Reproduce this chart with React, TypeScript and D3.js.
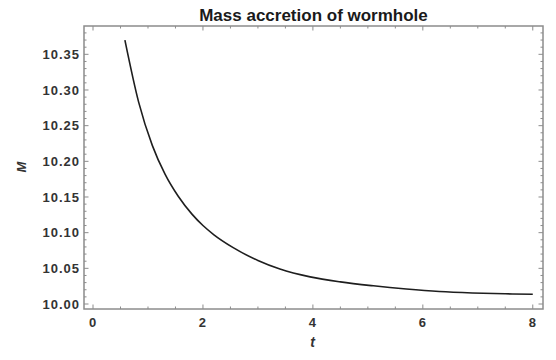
import React from "react";
import * as d3 from "d3";

// Mass M(t) sampled along the accretion curve
const timeValues = [0.58, 0.83, 1.08, 1.31, 1.55, 1.8, 2.0, 2.2, 2.55, 3.0, 3.4, 3.95, 4.5, 5.1, 5.7, 6.3, 6.9, 7.5, 8.0];
const massValues = [10.370, 10.283, 10.222, 10.182, 10.151, 10.126, 10.110, 10.097, 10.079, 10.061, 10.049, 10.038, 10.031, 10.0255, 10.021, 10.0175, 10.0155, 10.0143, 10.0136];

const xTickValues = [0, 2, 4, 6, 8];
const yTickValues = [10.0, 10.05, 10.1, 10.15, 10.2, 10.25, 10.3, 10.35];

const W = 556;
const H = 360;
const left = 84;
const right = 543;
const top = 26;
const bottom = 309;

const frameColor = "#8c8c8c";
const labelColor = "#333333";
const font = "'Liberation Sans', Arial, sans-serif";

export default function App() {
  const x = d3.scaleLinear().domain([-0.164, 8.186]).range([left, right]);
  const y = d3.scaleLinear().domain([9.993, 10.3897]).range([bottom, top]);

  const points = timeValues.map((t, i) => [t, massValues[i]] as [number, number]);
  const line = d3
    .line<[number, number]>()
    .x((d) => x(d[0]))
    .y((d) => y(d[1]))
    .curve(d3.curveMonotoneX);

  const xMinor = d3.range(0, 8.01, 0.5).filter((v) => Math.abs(v % 2) > 1e-6);
  const yMinor = d3
    .range(10.0, 10.386, 0.01)
    .filter((v) => Math.abs(Math.round(v * 100) % 5) !== 0);

  const majorLen = 4.5;
  const minorLen = 2.5;

  return (
    <svg
      width={W}
      height={H}
      style={{ position: "absolute", left: 0, top: 0, background: "#fff" }}
    >
      <rect x={0} y={0} width={W} height={H} fill="#fff" />

      {/* title */}
      <text
        x={(left + right) / 2}
        y={20.5}
        textAnchor="middle"
        fontFamily={font}
        fontWeight="bold"
        fontSize={17}
        fill="#1a1a1a"
      >
        Mass accretion of wormhole
      </text>

      {/* frame */}
      <rect
        x={left}
        y={top}
        width={right - left}
        height={bottom - top}
        fill="none"
        stroke={frameColor}
        strokeWidth={1.5}
      />

      {/* x ticks, bottom and top */}
      {xTickValues.map((v) => (
        <g key={"xm" + v}>
          <line x1={x(v)} x2={x(v)} y1={bottom} y2={bottom - majorLen} stroke={frameColor} strokeWidth={1} />
          <line x1={x(v)} x2={x(v)} y1={top} y2={top + majorLen} stroke={frameColor} strokeWidth={1} />
          <text
            x={x(v)}
            y={327}
            textAnchor="middle"
            fontFamily={font}
            fontWeight="bold"
            fontSize={13}
            letterSpacing={1}
            fill={labelColor}
          >
            {d3.format("d")(v)}
          </text>
        </g>
      ))}
      {xMinor.map((v) => (
        <g key={"xn" + v}>
          <line x1={x(v)} x2={x(v)} y1={bottom} y2={bottom - minorLen} stroke={frameColor} strokeWidth={1} />
          <line x1={x(v)} x2={x(v)} y1={top} y2={top + minorLen} stroke={frameColor} strokeWidth={1} />
        </g>
      ))}

      {/* y ticks, left and right */}
      {yTickValues.map((v) => (
        <g key={"ym" + v}>
          <line x1={left} x2={left + majorLen} y1={y(v)} y2={y(v)} stroke={frameColor} strokeWidth={1} />
          <line x1={right} x2={right - majorLen} y1={y(v)} y2={y(v)} stroke={frameColor} strokeWidth={1} />
          <text
            x={80}
            y={y(v) + 4.6}
            textAnchor="end"
            fontFamily={font}
            fontWeight="bold"
            fontSize={13}
            letterSpacing={1}
            fill={labelColor}
          >
            {d3.format(".2f")(v)}
          </text>
        </g>
      ))}
      {yMinor.map((v) => (
        <g key={"yn" + v.toFixed(2)}>
          <line x1={left} x2={left + minorLen} y1={y(v)} y2={y(v)} stroke={frameColor} strokeWidth={1} />
          <line x1={right} x2={right - minorLen} y1={y(v)} y2={y(v)} stroke={frameColor} strokeWidth={1} />
        </g>
      ))}

      {/* curve */}
      <path d={line(points) ?? ""} fill="none" stroke="#1e1e1e" strokeWidth={1.6} />

      {/* axis labels */}
      <text
        x={(left + right) / 2 - 1}
        y={347}
        textAnchor="middle"
        fontFamily={font}
        fontWeight="bold"
        fontStyle="italic"
        fontSize={14}
        fill={labelColor}
      >
        t
      </text>
      <text
        transform={`translate(26, 167) rotate(-90)`}
        textAnchor="middle"
        fontFamily={font}
        fontWeight="bold"
        fontStyle="italic"
        fontSize={13}
        fill={labelColor}
      >
        M
      </text>
    </svg>
  );
}
